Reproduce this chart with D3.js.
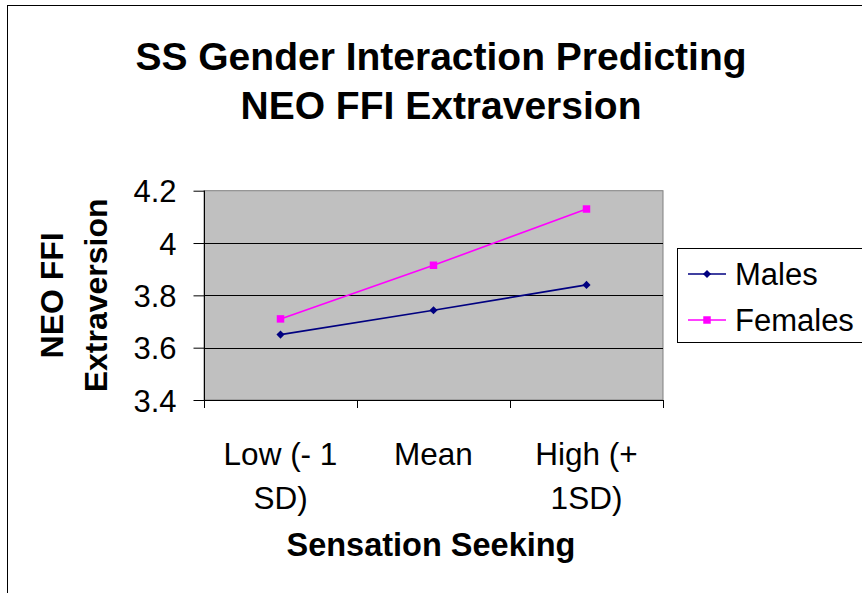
<html> <head>
<script src="https://d3js.org/d3.v7.min.js"></script>
<style>
  body { margin: 0; background: #fff; }
  text { font-family: "Liberation Sans", Arial, sans-serif; }
</style>
</head>
<body>
  <div id="chart"></div>
<script>

// data
const categories = [['Low (- 1', 'SD)'], ['Mean'], ['High (+', '1SD)']];
const males = [3.65, 3.743, 3.84];
const females = [3.71, 3.915, 4.13];
const yTicks = [3.4, 3.6, 3.8, 4, 4.2];
const seriesNames = ['Males', 'Females'];

// constants
const canvas = [862, 593];
const plot = {left: 204, right: 663, top: 190.7, bottom: 400};

const svg = d3.select('#chart').append('svg')
  .attr('width', canvas[0])
  .attr('height', canvas[1]);

// outer chart border
svg.append('rect')
  .attr('x', 7.5).attr('y', 5.5)
  .attr('width', 900).attr('height', 700)
  .style('fill', 'white').style('stroke', 'black');

const scX = d3.scaleBand().domain(d3.range(categories.length)).range([plot.left, plot.right]);
const scY = d3.scaleLinear().domain([3.4, 4.2]).range([plot.bottom, plot.top]);

// plot background
svg.append('rect')
  .attr('x', plot.left).attr('y', plot.top)
  .attr('width', plot.right - plot.left).attr('height', plot.bottom - plot.top)
  .style('fill', '#c0c0c0').style('stroke', '#808080');

// gridlines
svg.append('g').selectAll('line').data(yTicks.slice(1, -1)).enter().append('line')
  .attr('x1', plot.left).attr('x2', plot.right)
  .attr('y1', d => Math.round(scY(d)) + 0.5).attr('y2', d => Math.round(scY(d)) + 0.5)
  .style('stroke', 'black');

// y axis
const yAxis = svg.append('g')
  .attr('transform', `translate(${plot.left + 0.5}, 0)`)
  .call(d3.axisLeft(scY).tickValues(yTicks).tickSize(11).tickPadding(17).tickFormat(d3.format('')));
yAxis.select('.domain').remove();
yAxis.append('line').attr('y1', plot.top).attr('y2', plot.bottom).style('stroke', 'black');
yAxis.selectAll('text').style('font-size', '31px').style('fill', 'black')
  .attr('dy', '0.36em');

// x axis
svg.append('line')
  .attr('x1', plot.left).attr('x2', plot.right + 1)
  .attr('y1', plot.bottom + 0.5).attr('y2', plot.bottom + 0.5)
  .style('stroke', 'black');
const bounds = d3.range(categories.length).map(i => scX(i)).concat([plot.right]);
svg.append('g').selectAll('line').data(bounds).enter().append('line')
  .attr('x1', d => Math.round(d) + 0.5).attr('x2', d => Math.round(d) + 0.5)
  .attr('y1', plot.bottom).attr('y2', plot.bottom + 8)
  .style('stroke', 'black');
categories.forEach((lines, i) => {
  const cx = scX(i) + scX.bandwidth() / 2;
  lines.forEach((ln, j) => {
    svg.append('text')
      .attr('x', cx).attr('y', 465 + j * 44)
      .attr('text-anchor', 'middle')
      .style('font-size', '31.5px')
      .text(ln);
  });
});

// series
const drawSeries = (values, color, shape, size) => {
  const line = d3.line().x((d, i) => scX(i) + scX.bandwidth() / 2).y(d => scY(d));
  svg.append('path').datum(values)
    .attr('d', line)
    .style('fill', 'none').style('stroke', color).style('stroke-width', 1.6);
  svg.append('g').selectAll('path').data(values).enter().append('path')
    .attr('transform', (d, i) => `translate(${scX(i) + scX.bandwidth() / 2}, ${scY(d)})`)
    .attr('d', d3.symbol().type(shape).size(size))
    .style('fill', color);
};
drawSeries(males, '#000080', d3.symbolDiamond2, 42);
drawSeries(females, '#ff00ff', d3.symbolSquare, 56);

// title
['SS Gender Interaction Predicting', 'NEO FFI Extraversion'].forEach((t, i) => {
  svg.append('text')
    .attr('x', 441).attr('y', 70 + i * 49)
    .attr('text-anchor', 'middle')
    .style('font-size', '39px').style('font-weight', 'bold')
    .text(t);
});

// y axis title
['NEO FFI', 'Extraversion'].forEach((t, i) => {
  svg.append('text')
    .attr('transform', `translate(${63 + i * 44}, ${(plot.top + plot.bottom) / 2}) rotate(-90)`)
    .attr('text-anchor', 'middle')
    .style('font-size', '32px').style('font-weight', 'bold')
    .text(t);
});

// x axis title
svg.append('text')
  .attr('x', 431).attr('y', 556)
  .attr('text-anchor', 'middle')
  .style('font-size', '32.5px').style('font-weight', 'bold')
  .text('Sensation Seeking');

// legend
const legend = svg.append('g');
legend.append('rect')
  .attr('x', 677.5).attr('y', 248.5).attr('width', 220).attr('height', 94)
  .style('fill', 'white').style('stroke', 'black');
const legendColors = ['#000080', '#ff00ff'];
const legendShapes = [[d3.symbolDiamond2, 42], [d3.symbolSquare, 56]];
seriesNames.forEach((name, i) => {
  const y = 274 + i * 46;
  legend.append('line')
    .attr('x1', 688).attr('x2', 726).attr('y1', y).attr('y2', y)
    .style('stroke', legendColors[i]).style('stroke-width', 1.6);
  legend.append('path')
    .attr('transform', `translate(707, ${y})`)
    .attr('d', d3.symbol().type(legendShapes[i][0]).size(legendShapes[i][1]))
    .style('fill', legendColors[i]);
  legend.append('text')
    .attr('x', 735).attr('y', y + 11)
    .style('font-size', '31px')
    .text(name);
});

</script> </body></html>
